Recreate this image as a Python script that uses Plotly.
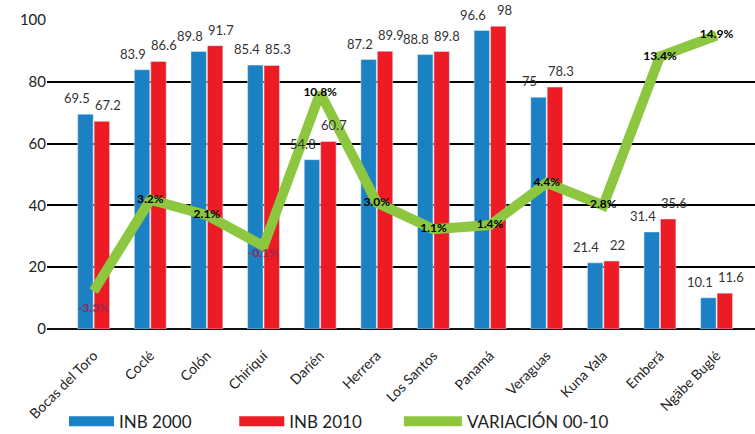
import plotly.graph_objects as go

categories = ["Bocas del Toro", "Coclé", "Colón", "Chiriquí", "Darién", "Herrera",
              "Los Santos", "Panamá", "Veraguas", "Kuna Yala", "Emberá", "Ngäbe Buglé"]
inb_2000 = [69.5, 83.9, 89.8, 85.4, 54.8, 87.2, 88.8, 96.6, 75, 21.4, 31.4, 10.1]
inb_2010 = [67.2, 86.6, 91.7, 85.3, 60.7, 89.9, 89.8, 98, 78.3, 22, 35.6, 11.6]
variacion = [-3.3, 3.2, 2.1, -0.1, 10.8, 3.0, 1.1, 1.4, 4.4, 2.8, 13.4, 14.9]
var_labels = ["-3.3%", "3.2%", "2.1%", "-0.1%", "10.8%", "3.0%", "1.1%", "1.4%",
              "4.4%", "2.8%", "13.4%", "14.9%"]
y_ticks = [0, 20, 40, 60, 80, 100]

BLUE = "#1B80C4"
RED = "#ED1C24"
GREEN = "#8DC63F"
FONT = "Lato, 'Open Sans', sans-serif"

fig = go.Figure()

fig.add_trace(go.Bar(
    x=categories, y=inb_2000, name="INB 2000", marker_color=BLUE, showlegend=False,
))
fig.add_trace(go.Bar(
    x=categories, y=inb_2010, name="INB 2010", marker_color=RED, showlegend=False,
))

positions = ["bottom center" if v < 0 else "middle center" for v in variacion]
colors = ["#A3234A" if v < 0 else "black" for v in variacion]
label_gap = [18 if v < -1 else 2 for v in variacion]
fig.add_trace(go.Scatter(
    x=categories, y=variacion, name="VARIACIÓN 00-10", yaxis="y2",
    mode="lines+markers+text", line=dict(color=GREEN, width=10),
    marker=dict(size=label_gap, color="rgba(0,0,0,0)", opacity=0,
                line=dict(width=0, color="rgba(0,0,0,0)")),
    text=var_labels, textposition=positions, cliponaxis=False,
    textfont=dict(size=12, color=colors, family=FONT, weight="bold"),
    showlegend=False, hoverinfo="skip",
))

# bar value labels (offset like the original spreadsheet labels)
for cat, v in zip(categories, inb_2000):
    fig.add_annotation(x=cat, y=v, text=f"{v:g}", showarrow=False, xshift=-17, yshift=6,
                       yanchor="bottom", font=dict(size=13, color="#333333", family=FONT))
for cat, v in zip(categories, inb_2010):
    fig.add_annotation(x=cat, y=v, text=f"{v:g}", showarrow=False, xshift=14, yshift=6,
                       yanchor="bottom", font=dict(size=13, color="#333333", family=FONT))

# legend entries, each in its own legend box
legend_names = ["legend", "legend2", "legend3"]
for nm, col, lg in zip(["INB 2000", "INB 2010", "VARIACIÓN 00-10"],
                       [BLUE, RED, GREEN], legend_names):
    fig.add_trace(go.Scatter(
        x=[None], y=[None], name=nm, mode="lines", legend=lg,
        line=dict(color=col, width=12), showlegend=True,
    ))

legend_common = dict(orientation="h", xanchor="left", y=-0.30, yanchor="middle",
                     font=dict(size=17, family=FONT, color="#222222"),
                     bgcolor="rgba(0,0,0,0)")

fig.update_layout(
    width=755, height=434,
    margin=dict(l=47, r=0, t=20, b=105, autoexpand=False),
    paper_bgcolor="white", plot_bgcolor="white",
    font=dict(family=FONT, color="#222222"),
    hovermode=False,
    barmode="group", bargap=0.42, bargroupgap=0.06,
    xaxis=dict(
        tickangle=-45, tickfont=dict(size=14, family=FONT, color="#222222"),
        showgrid=False, showline=False, ticks="outside", ticklen=12,
        tickcolor="rgba(0,0,0,0)", automargin=False,
    ),
    yaxis=dict(
        range=[0, 100], tickvals=y_ticks, showgrid=True, gridcolor="black", gridwidth=2,
        zeroline=True, zerolinecolor="#111111", zerolinewidth=2,
        tickfont=dict(size=15, family=FONT, color="#222222"), ticks="", ticklen=0,
        showline=False, automargin=False,
    ),
    yaxis2=dict(
        range=[-6, 16], overlaying="y", side="right", visible=False,
        showgrid=False, zeroline=False,
    ),
    legend=dict(x=0.024, itemwidth=45, **legend_common),
    legend2=dict(x=0.2645, itemwidth=45, **legend_common),
    legend3=dict(x=0.497, itemwidth=58, **legend_common),
)

fig.write_html("out.html", config={"displayModeBar": False},
               post_script="document.body.style.margin='0';")
